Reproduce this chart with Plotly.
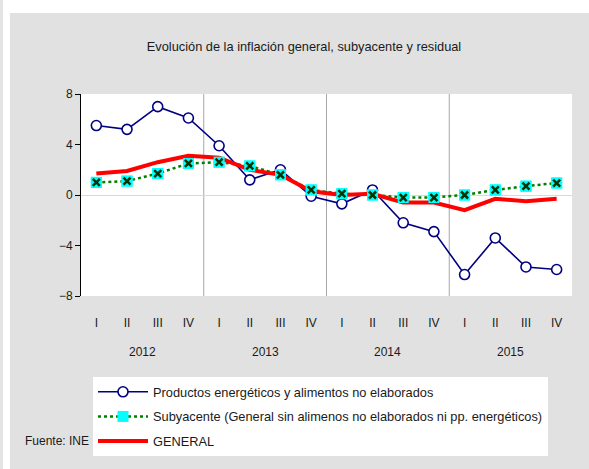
import plotly.graph_objects as go

quarters = ["I", "II", "III", "IV"] * 4
years = ["2012", "2013", "2014", "2015"]

energia = [5.5, 5.2, 7.0, 6.1, 3.9, 1.2, 2.0, -0.1, -0.7, 0.4, -2.2, -2.9, -6.3, -3.4, -5.7, -5.9]
subyacente = [1.0, 1.1, 1.7, 2.5, 2.6, 2.3, 1.6, 0.4, 0.1, 0.0, -0.2, -0.2, 0.0, 0.4, 0.7, 0.95]
general = [1.7, 1.9, 2.6, 3.1, 2.95, 2.0, 1.6, 0.3, 0.0, 0.1, -0.6, -0.6, -1.2, -0.3, -0.5, -0.3]

names = [
    "Productos energéticos y alimentos no elaborados",
    "Subyacente (General sin alimenos no elaborados ni pp. energéticos)",
    "GENERAL",
]

x = list(range(len(quarters)))
FONT = "Liberation Sans, Arial, sans-serif"

W, H = 589, 469
L, R, T, B = 81, 17, 94, 173
pw, ph = W - L - R, H - T - B


def px_x(p):
    return (p - L) / pw


def px_y(p):
    return (H - B - p) / ph


fig = go.Figure()
fig.add_trace(go.Scatter(
    x=x, y=energia, name=names[0], mode="lines+markers", legendgroup="a",
    line=dict(color="#000080", width=1.6),
    marker=dict(symbol="circle", size=10, color="white", line=dict(color="#000080", width=1.6)),
))
fig.add_trace(go.Scatter(
    x=x, y=subyacente, name=names[1], mode="lines+markers", legendgroup="b",
    line=dict(color="#008000", width=2.5, dash="dot"),
    marker=dict(symbol="square", size=11, color="#00ffff", line=dict(width=0)),
))
fig.add_trace(go.Scatter(
    x=x, y=general, name=names[2], mode="lines", legendgroup="c",
    line=dict(color="#ff0000", width=4),
))
fig.add_trace(go.Scatter(
    x=x, y=subyacente, mode="markers", showlegend=False, hoverinfo="skip",
    marker=dict(symbol="square", size=11, color="#00ffff", line=dict(width=0)),
))
fig.add_trace(go.Scatter(
    x=x, y=subyacente, mode="markers", showlegend=False, hoverinfo="skip",
    marker=dict(symbol="x-thin", size=7, color="#003300", line=dict(color="#003300", width=2.5)),
))

shapes = []
# year separators
for k in range(1, len(years)):
    xs = k * 4 - 0.5
    shapes.append(dict(type="line", xref="x", yref="paper", x0=xs, x1=xs, y0=0, y1=1,
                       line=dict(color="#a6a6a6", width=1), layer="below"))
# white margins outside grey panel
shapes.append(dict(type="rect", xref="paper", yref="paper", x0=px_x(0), x1=px_x(10),
                   y0=px_y(H), y1=px_y(0), fillcolor="white", line=dict(width=0), layer="below"))
shapes.append(dict(type="rect", xref="paper", yref="paper", x0=px_x(0), x1=px_x(W),
                   y0=px_y(13), y1=px_y(0), fillcolor="white", line=dict(width=0), layer="below"))
shapes.append(dict(type="rect", xref="paper", yref="paper", x0=px_x(0), x1=px_x(3),
                   y0=px_y(H), y1=px_y(0), fillcolor="#e4e4e4", line=dict(width=0), layer="below"))

annotations = []
for k, yr in enumerate(years):
    annotations.append(dict(text=yr, x=k * 4 + 1.5, xref="x", y=px_y(352), yref="paper",
                            xanchor="center", yanchor="middle",
                            showarrow=False, font=dict(family=FONT, size=12, color="#1a1a1a")))
annotations.append(dict(text="Fuente: INE", x=px_x(57), y=px_y(441), xref="paper", yref="paper",
                        xanchor="center", yanchor="middle",
                        showarrow=False, font=dict(family=FONT, size=12, color="#1a1a1a")))

fig.update_layout(
    width=W, height=H,
    margin=dict(l=L, r=R, t=T, b=B, pad=0),
    paper_bgcolor="#e1e1e1",
    plot_bgcolor="white",
    font=dict(family=FONT, size=12, color="#1a1a1a"),
    title=dict(text="Evolución de la inflación general, subyacente y residual",
               x=px_x(304), xanchor="center", xref="paper",
               y=1 - 47 / H, yanchor="middle", yref="container",
               font=dict(family=FONT, size=12.8, color="#1a1a1a")),
    xaxis=dict(range=[-0.5, len(x) - 0.5], tickmode="array", tickvals=x, ticktext=quarters,
               showgrid=False, zeroline=False, showline=False, ticks="",
               ticklabelstandoff=18, tickfont=dict(family=FONT, size=12, color="#1a1a1a")),
    yaxis=dict(range=[-8, 8], tickmode="array", tickvals=[-8, -4, 0, 4, 8],
               showgrid=False, zeroline=True, zerolinecolor="#d9d9d9", zerolinewidth=1,
               showline=True, linecolor="black", linewidth=1,
               ticks="outside", ticklen=5, tickcolor="black",
               tickfont=dict(family=FONT, size=12, color="#1a1a1a")),
    showlegend=True,
    legend=dict(x=px_x(93), y=px_y(377), xanchor="left", yanchor="top",
                bgcolor="white", borderwidth=0, itemwidth=50, tracegroupgap=5,
                font=dict(family=FONT, size=12.8, color="#1a1a1a")),
    shapes=shapes,
    annotations=annotations,
)

fig.write_html("out.html", config={"displayModeBar": False},
               post_script="document.body.style.margin='0';document.body.style.padding='0';")
